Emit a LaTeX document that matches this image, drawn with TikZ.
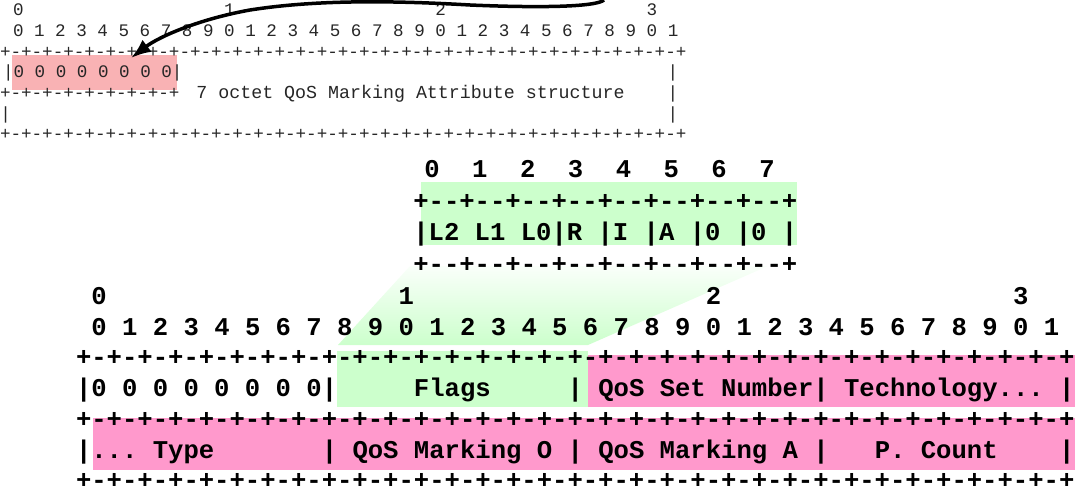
\documentclass[tikz,border=0pt]{standalone}
\usepackage{fontspec}
\setmonofont{Liberation Mono}[Ligatures=TeXOff]
\usetikzlibrary{arrows.meta}
\definecolor{flaggreen}{RGB}{204,255,204}
\definecolor{qospink}{RGB}{255,153,204}
\definecolor{octpink}{RGB}{249,178,180}
\newcommand\blankchars[1]{\hspace*{#1\dimexpr0.6001em\relax}}
\tikzset{
  bigtt/.style={anchor=base west, inner sep=0pt, outer sep=0pt,
    font=\fontsize{25.6}{30}\selectfont\ttfamily\bfseries\frenchspacing},
  smalltt/.style={anchor=base west, inner sep=0pt, outer sep=0pt,
    font=\fontsize{17.6}{20}\selectfont\ttfamily\frenchspacing, text=black!85},
  greenfill/.style={fill=flaggreen},
  pinkfill/.style={fill=qospink},
  arrowline/.style={line width=3.5pt, -{Latex[length=20pt,width=15pt]}},
}
\begin{document}
\begin{tikzpicture}[x=1pt,y=-1pt]
\useasboundingbox (0,0) rectangle (1075,492);

% ---------- fills ----------
\fill[octpink] (11.7,55) rectangle (176.7,90);
\fill[greenfill] (421,182) rectangle (797,245);
\shade[top color=flaggreen!10, bottom color=flaggreen]
  (410,266) -- (768,266) -- (588,345) -- (338,345) -- cycle;
\fill[greenfill] (337,351) rectangle (588,407);
\fill[pinkfill] (588,355) rectangle (1075,407);
\fill[pinkfill] (93,418) rectangle (1075,470);

% ---------- top-left small structure ----------
\node[smalltt] (oh1) at (13,15.3) {0\blankchars{19}1\blankchars{19}2\blankchars{19}3};
\node[smalltt] (oh2) at (13,36.3) {0 1 2 3 4 5 6 7 8 9 0 1 2 3 4 5 6 7 8 9 0 1 2 3 4 5 6 7 8 9 0 1};
\node[smalltt] (op1) at (0,57.3) {+-+-+-+-+-+-+-+-+-+-+-+-+-+-+-+-+-+-+-+-+-+-+-+-+-+-+-+-+-+-+-+-+};
\node[smalltt] (orow1) at (3,77.3) {|0 0 0 0 0 0 0 0|};
\node[smalltt] (orr1) at (667.7,77.3) {|};
\node[smalltt] (op2) at (0,98.3) {+-+-+-+-+-+-+-+-+};
\node[smalltt, font=\fontsize{18.3}{20}\selectfont\ttfamily\frenchspacing] (otext) at (196.4,98.3) {7 octet QoS Marking Attribute structure};
\node[smalltt] (orr2) at (667.7,98.3) {|};
\node[smalltt] (orl3) at (0.5,119.3) {|};
\node[smalltt] (orr3) at (667.7,119.3) {|};
\node[smalltt] (op3) at (0,139.3) {+-+-+-+-+-+-+-+-+-+-+-+-+-+-+-+-+-+-+-+-+-+-+-+-+-+-+-+-+-+-+-+-+};

% ---------- arrow ----------
\coordinate (arrowtail) at (604,0);
\coordinate (arrowtip) at (131,58);
\draw[arrowline] (arrowtail) .. controls (596,7) and (540,8) .. (470,5)
  .. controls (400,1) and (320,-1) .. (250,10)
  .. controls (200,19) and (160,36) .. (arrowtip);

% ---------- flags box ----------
\foreach \i in {0,...,7}
  \node[bigtt, anchor=base] (fh\i) at ({432+47.86*\i},177.7) {\i};
\node[bigtt] (fp1) at (413.3,209.2) {+--+--+--+--+--+--+--+--+};
\node[bigtt] (frow) at (413.3,240.7) {|L2 L1 L0|R |I |A |0 |0 |};
\node[bigtt] (fp2) at (413.3,272.2) {+--+--+--+--+--+--+--+--+};

% ---------- main structure ----------
\node[bigtt] (mh1) at (91.4,304.7) {0\blankchars{19}1\blankchars{19}2\blankchars{19}3};
\node[bigtt] (mh2) at (91.4,335.7) {0 1 2 3 4 5 6 7 8 9 0 1 2 3 4 5 6 7 8 9 0 1 2 3 4 5 6 7 8 9 0 1};
\node[bigtt] (mp1) at (76,365.7) {+-+-+-+-+-+-+-+-+-+-+-+-+-+-+-+-+-+-+-+-+-+-+-+-+-+-+-+-+-+-+-+-+};
\node[bigtt] (mrow1) at (76,396.7) {|0 0 0 0 0 0 0 0|\blankchars{5}Flags\blankchars{5}|\blankchars{1}QoS Set Number|\blankchars{1}Technology...\blankchars{1}|};
\node[bigtt] (mp2) at (76,427.7) {+-+-+-+-+-+-+-+-+-+-+-+-+-+-+-+-+-+-+-+-+-+-+-+-+-+-+-+-+-+-+-+-+};
\node[bigtt] (mrow2) at (76,458.7) {|...\blankchars{1}Type\blankchars{7}|\blankchars{1}QoS Marking O\blankchars{1}|\blankchars{1}QoS Marking A\blankchars{1}|\blankchars{3}P. Count\blankchars{4}|};
\node[bigtt] (mp3) at (76,488.7) {+-+-+-+-+-+-+-+-+-+-+-+-+-+-+-+-+-+-+-+-+-+-+-+-+-+-+-+-+-+-+-+-+};
\end{tikzpicture}
\end{document}
